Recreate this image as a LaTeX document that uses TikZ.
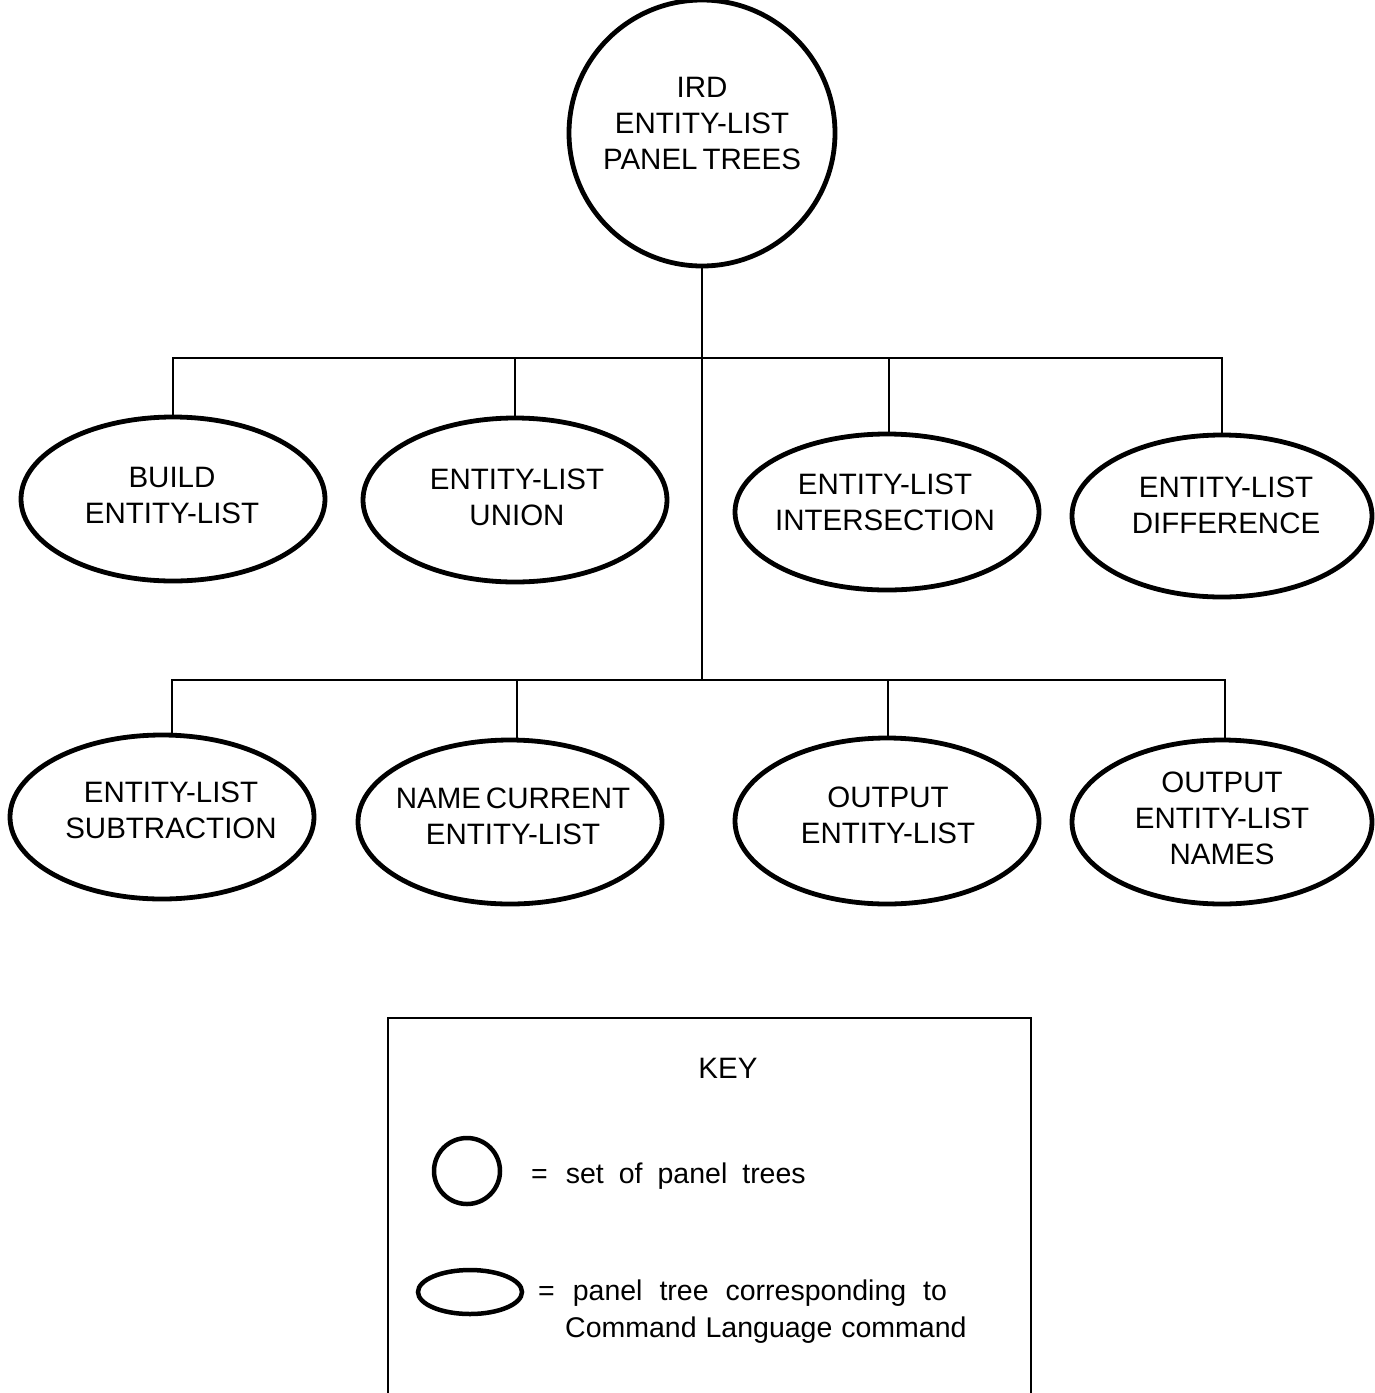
\documentclass[tikz,border=0pt]{standalone}
\usepackage{fontspec}
\setmainfont{Liberation Sans}
\usetikzlibrary{shapes.geometric}
\begin{document}
\begin{tikzpicture}[x=1pt,y=-1pt,
  lbl/.style={font=\fontsize{29.5}{36}\selectfont, align=center, inner sep=0pt},
  cmd/.style={ellipse, draw, line width=4.8pt, inner sep=0pt,
              minimum width=304pt, minimum height=164pt},
  tree/.style={circle, draw, line width=4.8pt, inner sep=0pt,
              minimum size=266pt},
  conn/.style={line width=2.6pt},
  keytxt/.style={font=\fontsize{28.5}{37}\selectfont, align=left, anchor=west, inner sep=0pt}]
\useasboundingbox[fill=white] (0,0) rectangle (1375,1393);

% root
\node[tree] (root) at (702,133) {};
\node[lbl] (roott) at (702,123) {IRD\\ENTITY-LIST\\PANEL\hspace{5pt}TREES};

% first row
\node[cmd] (b1) at (173,499) {};
\node[lbl] (b1t) at (172,495) {BUILD\\ENTITY-LIST};
\node[cmd] (b2) at (515,500) {};
\node[lbl] (b2t) at (517,497) {ENTITY-LIST\\UNION};
\node[cmd, minimum height=156pt] (b3) at (887,512) {};
\node[lbl] (b3t) at (885,502) {ENTITY-LIST\\INTERSECTION};
\node[cmd, minimum width=300pt, minimum height=162pt] (b4) at (1222,516) {};
\node[lbl] (b4t) at (1226,505) {ENTITY-LIST\\DIFFERENCE};

% second row
\node[cmd] (c1) at (162,817) {};
\node[lbl] (c1t) at (171,810) {ENTITY-LIST\\SUBTRACTION};
\node[cmd] (c2) at (510,822) {};
\node[lbl] (c2t) at (513,816) {NAME\hspace{5pt}CURRENT\\ENTITY-LIST};
\node[cmd, minimum height=166pt] (c3) at (887,821) {};
\node[lbl] (c3t) at (888,815) {OUTPUT\\ENTITY-LIST};
\node[cmd, minimum width=300pt] (c4) at (1222,822) {};
\node[lbl] (c4t) at (1222,818) {OUTPUT\\ENTITY-LIST\\NAMES};

% junctions
\coordinate (j1) at (702,358);
\coordinate (j2) at (702,680);

\draw[conn] (root.south) -- (j2);
\draw[conn] (b1.north) -- (b1.north |- j1) -- (b4.north |- j1) -- (b4.north);
\draw[conn] (b2.north) -- (b2.north |- j1);
\draw[conn] ([xshift=2pt]b3.north) -- ([xshift=2pt]b3.north |- j1);
\draw[conn] ([xshift=10pt]c1.north) -- ([xshift=10pt]c1.north |- j2) -- ([xshift=3pt]c4.north |- j2) -- ([xshift=3pt]c4.north);
\draw[conn] ([xshift=7pt]c2.north) -- ([xshift=7pt]c2.north |- j2);
\draw[conn] ([xshift=1pt]c3.north) -- ([xshift=1pt]c3.north |- j2);

% key
\coordinate (k1) at (388,1393);
\coordinate (k2) at (388,1018);
\coordinate (k3) at (1031,1018);
\coordinate (k4) at (1031,1393);
\draw[line width=2.6pt] (k1) -- (k2) -- (k3) -- (k4);
\node[lbl] (keyt) at (728,1068) {KEY};
\node[circle, draw, line width=4.5pt, minimum size=66pt, inner sep=0pt] (ks) at (467,1171) {};
\node[keytxt] (kst) at (531,1176) {=\hspace{18pt}{\spaceskip=15pt set of panel trees}};
\node[ellipse, draw, line width=4.5pt, minimum width=104pt, minimum height=44pt, inner sep=0pt] (ke) at (470,1292) {};
\node[keytxt, anchor=north west] (ket) at (538,1280) {=\hspace{18pt}{\spaceskip=17pt panel tree corresponding to}\\\hspace{27pt}{\spaceskip=9pt Command Language command}};
\end{tikzpicture}
\end{document}
